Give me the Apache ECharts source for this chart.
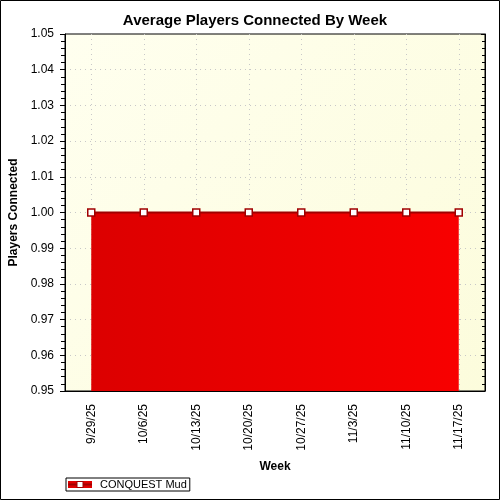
<!DOCTYPE html>
<html>
<head>
<meta charset="utf-8">
<script src="https://cdn.jsdelivr.net/npm/echarts@6/dist/echarts.min.js"></script>
<style>
html,body{margin:0;padding:0;background:#fff;}
#c{width:500px;height:500px;}
</style>
</head>
<body>
<div id="c"></div>
<script>
const weeks = ['9/29/25','10/6/25','10/13/25','10/20/25','10/27/25','11/3/25','11/10/25','11/17/25'];
const players = [1, 1, 1, 1, 1, 1, 1, 1];
const seriesName = 'CONQUEST Mud';
const yMin = 0.95, yMax = 1.05, yStep = 0.01;

const legendSvg = '<svg xmlns="http://www.w3.org/2000/svg" width="24" height="7" viewBox="0 0 24 7">' +
  '<rect x="0" y="0" width="24" height="7" fill="#e00000"/>' +
  '<rect x="0" y="2.5" width="24" height="2" fill="#a00000"/>' +
  '<rect x="9" y="0.5" width="6" height="6" fill="#ffffff" stroke="#a00000" stroke-width="1"/></svg>';
const legendIcon = 'image://data:image/svg+xml;charset=utf-8,' + encodeURIComponent(legendSvg);

const chart = echarts.init(document.getElementById('c'), null, {renderer: 'canvas'});
const font = 'Liberation Sans, Arial, sans-serif';
chart.setOption({
  animation: false,
  backgroundColor: '#ffffff',
  title: {
    text: 'Average Players Connected By Week',
    left: 250, top: 8, textAlign: 'center',
    textStyle: {fontFamily: font, fontSize: 15, fontWeight: 'bold', color: '#000'}
  },
  graphic: [{
    type: 'rect', shape: {x: 0.5, y: 0.5, width: 499, height: 499},
    style: {fill: 'none', stroke: '#000', lineWidth: 1}, silent: true, z: 100
  }],
  legend: {
    left: 66, top: 478,
    padding: [1, 3, 1, 2],
    borderColor: '#000', borderWidth: 1,
    itemWidth: 24, itemHeight: 7, itemGap: 6,
    textStyle: {fontFamily: font, fontSize: 11, color: '#000', padding: [0, 0, 0, 3]},
    data: [{name: seriesName, icon: legendIcon}]
  },
  grid: {
    left: 65, right: 15, top: 34, bottom: 109,
    outerBoundsMode: 'none', containLabel: false,
    show: true, borderColor: '#000', borderWidth: 1,
    backgroundColor: new echarts.graphic.LinearGradient(0, 0, 1, 1, [
      {offset: 0, color: '#ffffef'},
      {offset: 1, color: '#fcfcdc'}
    ])
  },
  xAxis: {
    type: 'category', data: weeks, boundaryGap: true,
    name: 'Week', nameLocation: 'middle', nameGap: 70,
    nameTextStyle: {fontFamily: font, fontSize: 12, fontWeight: 'bold', color: '#000'},
    axisLine: {lineStyle: {color: '#000', width: 1}},
    axisTick: {alignWithLabel: true, length: 5, lineStyle: {color: '#000'}},
    axisLabel: {rotate: 90, fontFamily: font, fontSize: 12, color: '#000', margin: 13},
    splitLine: {show: true, alignWithLabel: true, lineStyle: {color: '#c8c8c8', type: [1, 4]}}
  },
  yAxis: [{
    type: 'value', min: yMin, max: yMax, interval: yStep,
    name: 'Players Connected', nameLocation: 'middle', nameGap: 44,
    nameTextStyle: {fontFamily: font, fontSize: 12, fontWeight: 'bold', color: '#000'},
    axisLine: {show: true, lineStyle: {color: '#000', width: 1}},
    axisTick: {show: true, length: 5, lineStyle: {color: '#000'}},
    minorTick: {show: true, splitNumber: 5, length: 4, lineStyle: {color: '#000'}},
    axisLabel: {fontFamily: font, fontSize: 12, color: '#000', margin: 11,
      formatter: v => v.toFixed(2)},
    splitLine: {show: true, showMinLine: false, showMaxLine: false,
      lineStyle: {color: '#c8c8c8', type: [1, 4]}}
  }, {
    type: 'value', min: yMin, max: yMax, interval: yStep, position: 'right',
    axisLine: {show: true, lineStyle: {color: '#000'}},
    axisTick: {show: true, inside: true, length: 4, lineStyle: {color: '#000'}},
    minorTick: {show: true, splitNumber: 5, length: 3, lineStyle: {color: '#000'}},
    axisLabel: {show: false},
    splitLine: {show: false}
  }],
  series: [{
    name: seriesName, type: 'line', data: players,
    symbol: 'rect', symbolSize: 7,
    itemStyle: {color: '#ffffff', borderColor: '#a00000', borderWidth: 1.5},
    lineStyle: {color: '#a00000', width: 2},
    areaStyle: {
      origin: 'start', opacity: 1,
      color: new echarts.graphic.LinearGradient(0, 0, 1, 0, [
        {offset: 0, color: '#dc0000'},
        {offset: 1, color: '#f80000'}
      ])
    },
    z: 3
  }]
});
</script>
</body>
</html>
